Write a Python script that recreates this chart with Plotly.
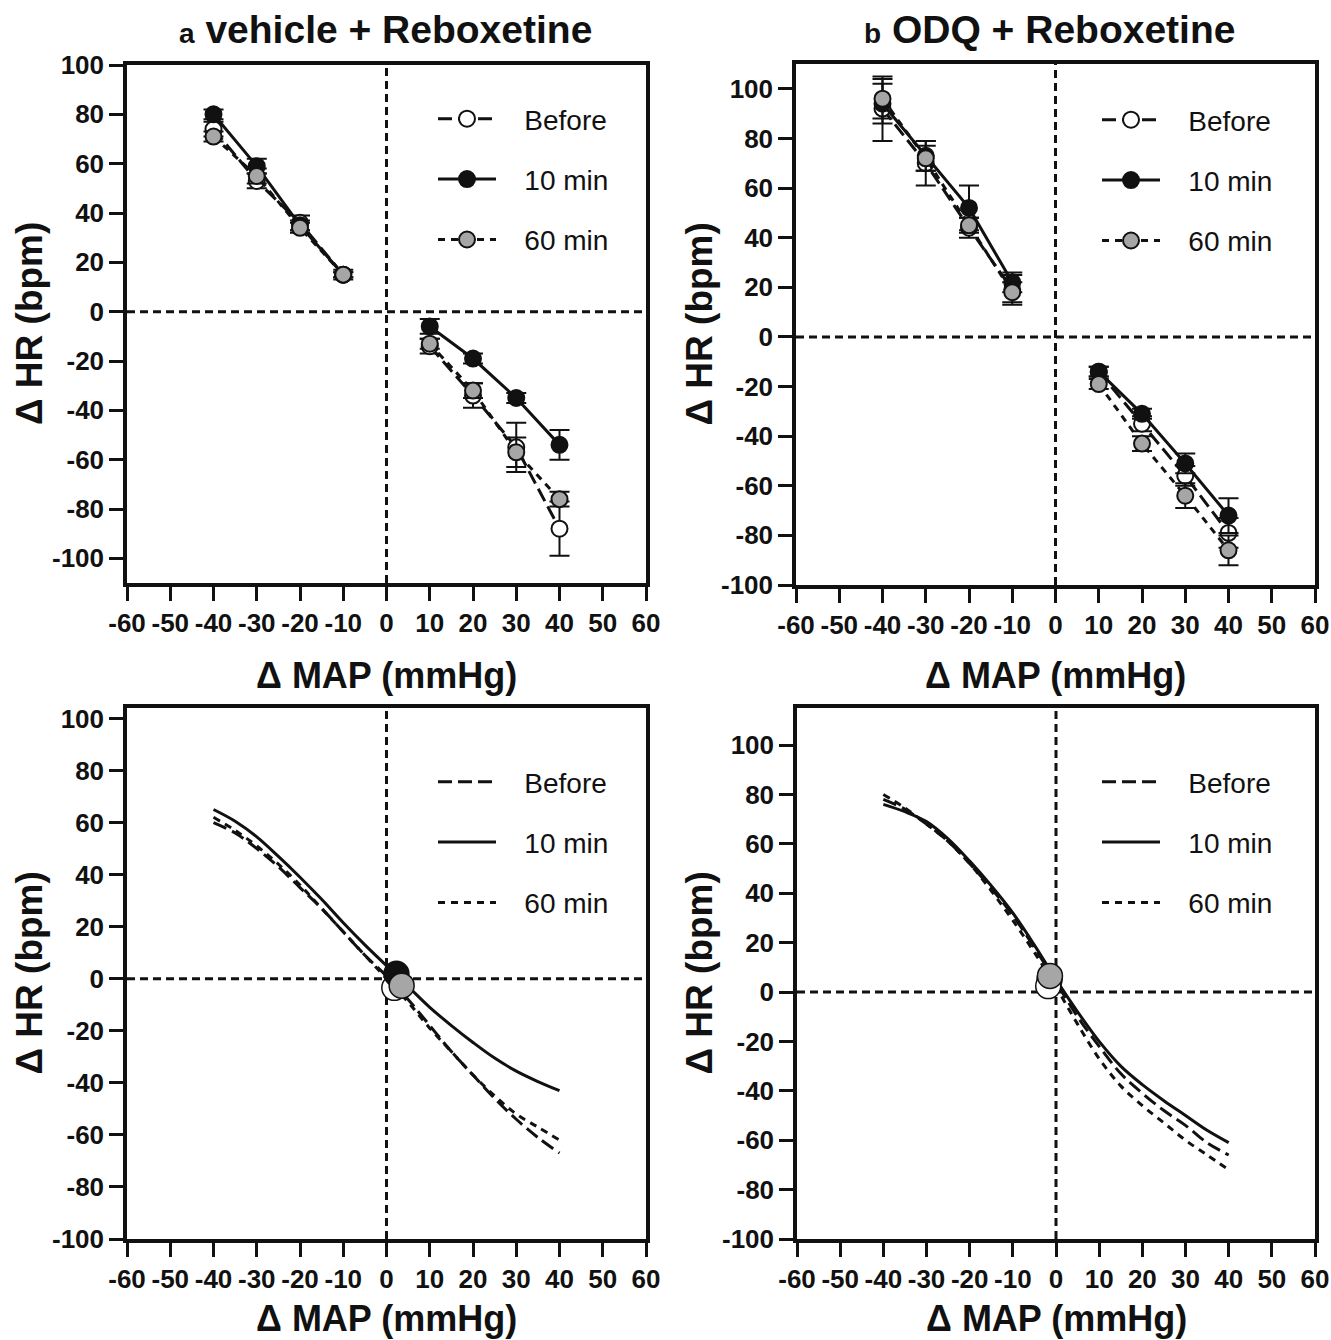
import plotly.graph_objects as go

# pressure steps (mmHg) used in the top panels
MAP_STEPS = [-40, -30, -20, -10, 10, 20, 30, 40]

# a: vehicle + reboxetine, mean and SEM
VEH_BEFORE = [74, 53, 36, 15, -14, -34, -55, -88]
VEH_BEFORE_SEM = [3, 3, 3, 2, 3, 5, 10, 11]
VEH_10 = [80, 59, 35, 15, -6, -19, -35, -54]
VEH_10_SEM = [2, 3, 2, 1, 3, 2, 2, 6]
VEH_60 = [71, 55, 34, 15, -13, -32, -57, -76]
VEH_60_SEM = [2, 3, 2, 1, 2, 3, 6, 3]

# b: ODQ + reboxetine
ODQ_BEFORE = [92, 70, 44, 19, -14, -35, -56, -79]
ODQ_BEFORE_SEM = [13, 9, 4, 6, 2, 3, 4, 6]
ODQ_10 = [94, 73, 52, 22, -14, -31, -51, -72]
ODQ_10_SEM = [8, 6, 9, 4, 2, 2, 4, 7]
ODQ_60 = [96, 72, 45, 18, -19, -43, -64, -86]
ODQ_60_SEM = [8, 5, 3, 4, 2, 3, 5, 6]

# bottom panels: fitted baroreflex curves
CURVE_X = [-40, -35, -30, -25, -20, -15, -10, -5, 0, 5, 10, 15, 20, 25, 30, 35, 40]
VEH_FIT_BEFORE = [60, 56, 50, 43, 35, 27, 18, 9, 1, -8, -18, -28, -37, -46, -54, -61, -67]
VEH_FIT_10 = [65, 60.5, 54.5, 47, 39, 30.5, 21.5, 13, 5, -3, -11, -18, -24.5, -30.5, -35.5, -39.5, -43]
VEH_FIT_60 = [62, 57, 51, 44, 36, 27, 18, 9, 0, -9, -19, -28, -37, -45, -52, -57, -62]
ODQ_FIT_BEFORE = [78, 74, 68, 61, 52, 42, 31, 18, 4, -10, -22, -33, -41, -48, -54, -61, -66]
ODQ_FIT_10 = [76, 73, 69, 62, 53, 43, 32, 19, 5, -8, -20, -30, -37.5, -44, -50, -56, -61]
ODQ_FIT_60 = [80, 74.5, 68, 61, 52, 41, 29, 16, 2, -13, -27, -38, -46, -53, -60, -66, -72]

# operating points (MAP, HR): Before, 10 min, 60 min
VEH_OP_X = [1.8, 2.3, 3.5]
VEH_OP_Y = [-3.5, 1.9, -2.7]
ODQ_OP_X = [-1.8, -1.5, -1.4]
ODQ_OP_Y = [2.4, 5.0, 6.5]

GROUPS = ["Before", "10 min", "60 min"]
FILLS = ["white", "#111111", "#a6a6a6"]
DASHES = ["14px,6px", "solid", "7px,6px"]

X_TICKS = [-60, -50, -40, -30, -20, -10, 0, 10, 20, 30, 40, 50, 60]
Y_TICKS = [-100, -80, -60, -40, -20, 0, 20, 40, 60, 80, 100]

INK = "#111111"
FONT = "Liberation Sans, Arial, sans-serif"
TICK_FONT = dict(family=FONT, size=26, color=INK, weight="bold")

W, H = 1331, 1340


def px_x(a, b):
    return [a / W, b / W]


def px_y(top, bottom):
    return [1 - bottom / H, 1 - top / H]


def fx(p):
    return p / W


def fy(p):
    return 1 - p / H


def split_gap(vals):
    # break the line between the falling and rising halves
    return vals[:4] + [None] + vals[4:]


def legend_name(name):
    return "\u00a0\u00a0\u00a0" + name


fig = go.Figure()

panels = [
    ("x", "y", "legend", [VEH_BEFORE, VEH_10, VEH_60], [VEH_BEFORE_SEM, VEH_10_SEM, VEH_60_SEM]),
    ("x2", "y2", "legend2", [ODQ_BEFORE, ODQ_10, ODQ_60], [ODQ_BEFORE_SEM, ODQ_10_SEM, ODQ_60_SEM]),
]
for xa, ya, lg, series, sems in panels:
    for name, vals, sem, fill, dash in zip(GROUPS, series, sems, FILLS, DASHES):
        fig.add_trace(
            go.Scatter(
                x=split_gap(MAP_STEPS),
                y=split_gap(vals),
                error_y=dict(type="data", array=split_gap(sem), width=10, thickness=2, color=INK),
                mode="lines+markers",
                line=dict(color=INK, width=3, dash=dash),
                marker=dict(size=16, color=fill, line=dict(color=INK, width=2)),
                connectgaps=False,
                name=legend_name(name),
                legendgroup=lg + name,
                legend=lg,
                xaxis=xa,
                yaxis=ya,
            )
        )

curve_panels = [
    ("x3", "y3", "legend3", [VEH_FIT_BEFORE, VEH_FIT_10, VEH_FIT_60], VEH_OP_X, VEH_OP_Y, [0, 1, 2]),
    ("x4", "y4", "legend4", [ODQ_FIT_BEFORE, ODQ_FIT_10, ODQ_FIT_60], ODQ_OP_X, ODQ_OP_Y, [1, 0, 2]),
]
for xa, ya, lg, series, opx, opy, order in curve_panels:
    for name, vals, dash in zip(GROUPS, series, DASHES):
        fig.add_trace(
            go.Scatter(
                x=CURVE_X,
                y=vals,
                mode="lines",
                line=dict(color=INK, width=3, dash=dash, shape="spline", smoothing=1),
                name=legend_name(name),
                legendgroup=lg + name,
                legend=lg,
                xaxis=xa,
                yaxis=ya,
            )
        )
    for i in order:
        fig.add_trace(
            go.Scatter(
                x=[opx[i]],
                y=[opy[i]],
                mode="markers",
                marker=dict(size=25, color=FILLS[i], line=dict(color=INK, width=1.5)),
                showlegend=False,
                xaxis=xa,
                yaxis=ya,
            )
        )

axis_common = dict(
    showline=True,
    linewidth=3.5,
    linecolor=INK,
    mirror=True,
    ticks="outside",
    ticklen=14,
    tickwidth=3,
    tickcolor=INK,
    showgrid=False,
    zeroline=False,
    tickfont=TICK_FONT,
    fixedrange=True,
    automargin=False,
)
xticks = dict(range=[-60, 60], tickmode="array", tickvals=X_TICKS, ticktext=[str(v) for v in X_TICKS])
yticks = dict(tickmode="array", tickvals=Y_TICKS, ticktext=[str(v) for v in Y_TICKS])

layout_axes = {
    "xaxis": dict(domain=px_x(127, 646), anchor="y", **xticks, **axis_common),
    "yaxis": dict(domain=px_y(65, 583), anchor="x", range=[-110, 100], **yticks, **axis_common),
    "xaxis2": dict(domain=px_x(796, 1315), anchor="y2", **xticks, **axis_common),
    "yaxis2": dict(domain=px_y(64, 585), anchor="x2", range=[-100, 110], **yticks, **axis_common),
    "xaxis3": dict(domain=px_x(127, 646), anchor="y3", **xticks, **axis_common),
    "yaxis3": dict(domain=px_y(708, 1239), anchor="x3", range=[-100, 104], **yticks, **axis_common),
    "xaxis4": dict(domain=px_x(797, 1315), anchor="y4", **xticks, **axis_common),
    "yaxis4": dict(domain=px_y(708, 1239), anchor="x4", range=[-100, 115], **yticks, **axis_common),
}

# dashed zero lines
for sfx in ["", "2", "3", "4"]:
    ln = dict(color=INK, width=3, dash="8px,5px")
    fig.add_shape(type="line", xref="x" + sfx, yref="y" + sfx + " domain",
                  x0=0, x1=0, y0=0, y1=1, line=ln, layer="below")
    fig.add_shape(type="line", xref="x" + sfx + " domain", yref="y" + sfx,
                  x0=0, x1=1, y0=0, y1=0, line=ln, layer="below")

legend_common = dict(
    font=dict(family=FONT, size=28, color=INK),
    bgcolor="rgba(0,0,0,0)",
    tracegroupgap=21,
    traceorder="grouped",
    itemwidth=58,
    xanchor="left",
    yanchor="top",
)
legends = {
    "legend": dict(x=fx(433), y=fy(94), **legend_common),
    "legend2": dict(x=fx(1097), y=fy(95), **legend_common),
    "legend3": dict(x=fx(433), y=fy(757), **legend_common),
    "legend4": dict(x=fx(1097), y=fy(757), **legend_common),
}

annotations = []
title_font = dict(family=FONT, size=39, color=INK, weight="bold")
for xc, letter, text in [(386, "a", "vehicle + Reboxetine"), (1049, "b", "ODQ + Reboxetine")]:
    annotations.append(dict(
        text="<span style='font-size:28px'>" + letter + "</span> " + text,
        x=fx(xc), y=fy(30), xref="paper", yref="paper",
        xanchor="center", yanchor="middle", showarrow=False, font=title_font,
    ))

label_font = dict(family=FONT, size=36, color=INK, weight="bold")
for sfx, xshift, yshift in [("", -98, -92), ("2", -97, -90), ("3", -98, -79), ("4", -98, -79)]:
    annotations.append(dict(
        text="Δ MAP (mmHg)", x=0.5, y=0, xref="x" + sfx + " domain", yref="y" + sfx + " domain",
        xanchor="center", yanchor="middle", yshift=yshift, showarrow=False, font=label_font,
    ))
    annotations.append(dict(
        text="Δ HR (bpm)", x=0, y=0.5, xref="x" + sfx + " domain", yref="y" + sfx + " domain",
        xanchor="center", yanchor="middle", xshift=xshift, textangle=-90, showarrow=False,
        font=dict(family=FONT, size=37, color=INK, weight="bold"),
    ))

fig.update_layout(
    width=W,
    height=H,
    margin=dict(l=0, r=0, t=0, b=0, autoexpand=False),
    paper_bgcolor="white",
    plot_bgcolor="white",
    showlegend=True,
    annotations=annotations,
    **layout_axes,
    **legends,
)

# drop the default page margin so the figure fills the window exactly
fig.write_html(
    "out.html",
    config={"displayModeBar": False},
    post_script="document.body.style.margin='0';document.body.style.overflow='hidden';",
)
